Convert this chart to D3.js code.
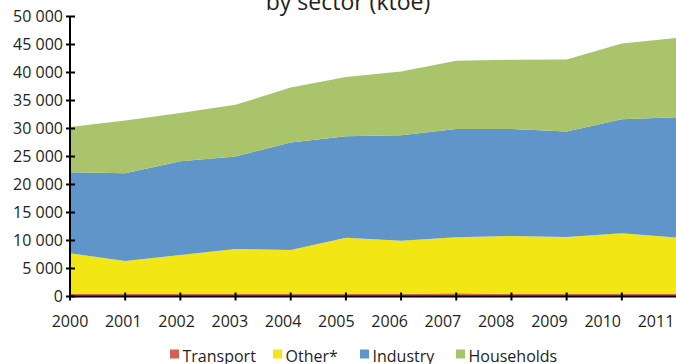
<!DOCTYPE html>
<html>
<head>
<meta charset="utf-8">
<script src="https://cdn.jsdelivr.net/npm/d3@7"></script>
<style>
  html, body { margin: 0; padding: 0; background: #fff; }
  svg { display: block; font-family: "Open Sans", sans-serif; }
</style>
</head>
<body>
<svg id="chart" width="676" height="364"></svg>
<script>
// Final energy consumption by sector, ktoe
const years = [2000, 2001, 2002, 2003, 2004, 2005, 2006, 2007, 2008, 2009, 2010, 2011];
const transport  = [450, 450, 450, 450, 450, 450, 450, 600, 450, 450, 450, 450];
const other      = [7270, 5900, 6970, 8040, 7860, 10060, 9525, 9980, 10365, 10190, 10850, 10060];
const industry   = [14480, 15670, 16750, 16500, 19190, 18090, 18825, 19320, 19085, 18820, 20370, 21520];
const households = [8050, 9410, 8580, 9240, 9830, 10600, 11390, 12200, 12380, 12870, 13520, 14170];

const seriesNames = ["Transport", "Other*", "Industry", "Households"];
const seriesColors = ["#d0625c", "#f3e615", "#5f95c8", "#aac46c"];
const yTicks = [0, 5000, 10000, 15000, 20000, 25000, 30000, 35000, 40000, 45000, 50000];

const rows = years.map((y, i) => ({
  year: y,
  "Transport": transport[i],
  "Other*": other[i],
  "Industry": industry[i],
  "Households": households[i]
}));

const svg = d3.select("#chart");

const x = d3.scaleLinear().domain([2000, 2011]).range([70, 677]);
const xLabel = d3.scaleLinear().domain([2000, 2011]).range([70, 656]);
const y = d3.scaleLinear().domain([0, 50000]).range([296.5, 16.5]);

const stacked = d3.stack().keys(seriesNames)(rows);
const color = d3.scaleOrdinal().domain(seriesNames).range(seriesColors);

const area = d3.area()
  .x(d => x(d.data.year))
  .y0(d => y(d[0]))
  .y1(d => y(d[1]));

svg.append("g")
  .selectAll("path")
  .data(stacked)
  .join("path")
  .attr("d", area)
  .attr("fill", d => color(d.key));

// Title
svg.append("text")
  .attr("x", 348)
  .attr("y", 10)
  .attr("text-anchor", "middle")
  .attr("font-size", 23)
  .attr("fill", "#231f20")
  .text("by sector (ktoe)");

// Y axis
const fmt = v => v === 0 ? "0" : d3.format(",")(v).replace(/,/g, " ");
const yAxis = svg.append("g");
yAxis.append("line")
  .attr("x1", 70).attr("x2", 70)
  .attr("y1", y(50000)).attr("y2", y(0))
  .attr("stroke", "#000").attr("stroke-width", 2);
yAxis.selectAll("line.tick")
  .data(yTicks)
  .join("line")
  .attr("class", "tick")
  .attr("x1", 66).attr("x2", 75)
  .attr("y1", d => y(d)).attr("y2", d => y(d))
  .attr("stroke", "#000").attr("stroke-width", 2);
yAxis.selectAll("text")
  .data(yTicks)
  .join("text")
  .attr("x", 63)
  .attr("y", d => y(d))
  .attr("dy", "0.35em")
  .attr("text-anchor", "end")
  .attr("font-size", 16)
  .attr("fill", "#231f20")
  .text(fmt);

// X axis
const xAxis = svg.append("g");
xAxis.append("line")
  .attr("x1", 69).attr("x2", 676)
  .attr("y1", y(0)).attr("y2", y(0))
  .attr("stroke", "#000").attr("stroke-width", 2);
xAxis.selectAll("line.tick")
  .data(years)
  .join("line")
  .attr("class", "tick")
  .attr("x1", d => x(d)).attr("x2", d => x(d))
  .attr("y1", 292.5).attr("y2", 300.5)
  .attr("stroke", "#000").attr("stroke-width", 2);
xAxis.selectAll("text")
  .data(years)
  .join("text")
  .attr("x", d => xLabel(d))
  .attr("y", 327)
  .attr("text-anchor", "middle")
  .attr("font-size", 16)
  .attr("fill", "#231f20")
  .text(d => d);

// Legend
const legendX = [170, 273, 360, 456];
const legend = svg.append("g")
  .selectAll("g")
  .data(seriesNames)
  .join("g")
  .attr("transform", (d, i) => `translate(${legendX[i]},0)`);
legend.append("rect")
  .attr("x", 0).attr("y", 349.5)
  .attr("width", 9).attr("height", 9)
  .attr("fill", d => color(d));
legend.append("text")
  .attr("x", 12.5)
  .attr("y", 362)
  .attr("font-size", 16)
  .attr("fill", "#231f20")
  .text(d => d);
</script>
</body>
</html>
